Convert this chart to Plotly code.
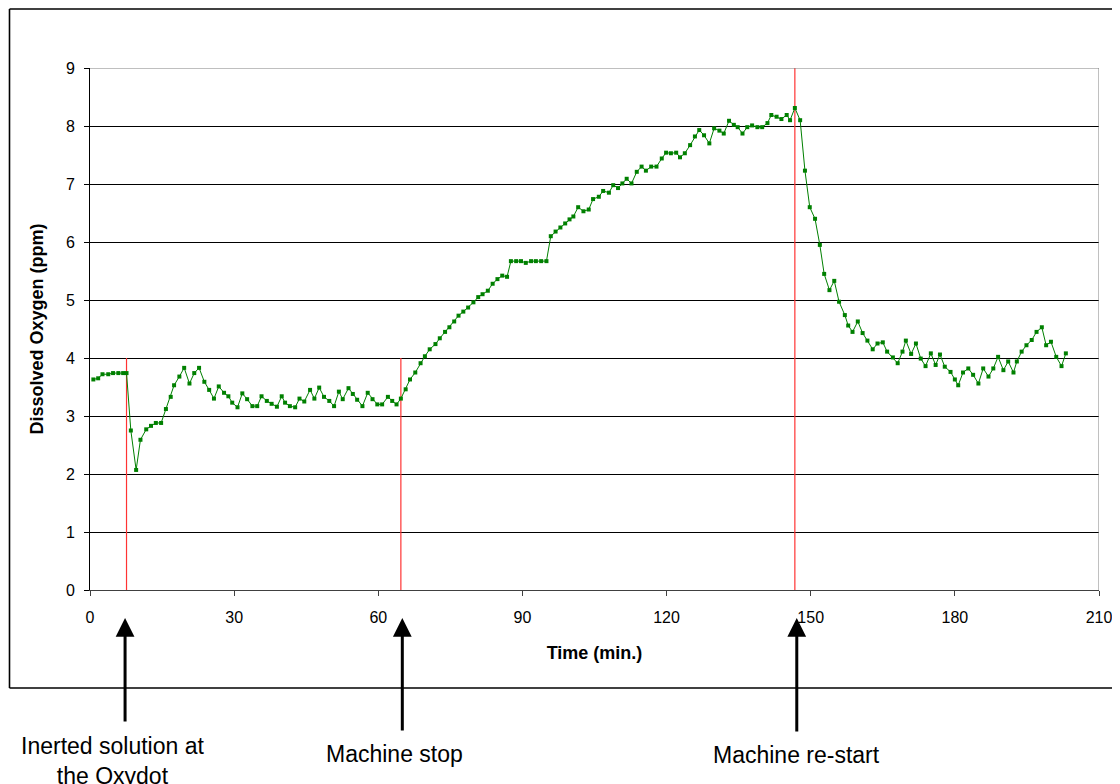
import plotly.graph_objects as go

# dissolved oxygen log
time_min = [
    0.7, 1.7, 2.6, 3.8, 4.8, 5.9, 6.9, 7.6, 8.5, 9.6, 10.5, 11.7, 12.7, 13.7, 14.8,
    15.8, 16.8, 17.5, 18.6, 19.6, 20.7, 21.7, 22.7, 23.8, 24.8, 25.8, 26.8, 27.9,
    28.8, 29.6, 30.7, 31.7, 32.7, 33.8, 34.8, 35.7, 36.8, 37.8, 38.9, 39.9, 40.6,
    41.6, 42.7, 43.6, 44.6, 45.8, 46.7, 47.7, 48.7, 49.8, 50.8, 51.8, 52.6, 53.8,
    54.7, 55.6, 56.7, 57.8, 58.8, 59.8, 60.8, 62.0, 62.9, 63.8, 64.7, 65.7, 66.6,
    67.7, 68.8, 69.7, 70.7, 71.9, 72.8, 73.9, 74.8, 75.8, 76.7, 77.7, 78.7, 79.8,
    80.8, 81.7, 82.8, 83.8, 84.8, 85.8, 86.8, 87.6, 88.7, 89.7, 90.7, 91.8, 92.8,
    93.9, 95.0, 95.9, 96.9, 97.9, 98.9, 99.8, 100.6, 101.6, 102.7, 103.8, 104.7,
    105.9, 106.8, 108.0, 108.9, 109.9, 110.8, 111.7, 112.7, 113.8, 114.8, 115.7,
    116.8, 117.9, 119.0, 119.9, 120.9, 122.0, 122.8, 123.8, 124.9, 125.9, 126.8,
    127.8, 128.9, 129.9, 131.0, 131.9, 133.0, 134.0, 134.8, 135.8, 136.8, 137.8,
    138.9, 139.9, 141.0, 141.8, 142.9, 143.9, 145.0, 145.7, 146.7, 147.8, 148.8,
    149.8, 150.9, 151.9, 152.8, 153.9, 154.9, 155.9, 157.1, 157.8, 158.7, 159.8,
    160.8, 161.8, 162.9, 163.9, 165.0, 165.9, 167.1, 168.1, 169.1, 169.8, 170.9,
    171.9, 172.9, 173.9, 175.0, 176.0, 176.9, 177.9, 179.1, 180.0, 180.7, 181.7,
    182.8, 183.8, 184.9, 185.9, 187.0, 188.0, 189.0, 190.1, 191.1, 192.2, 192.9,
    193.9, 194.9, 196.0, 197.0, 198.1, 199.0, 200.0, 201.1, 202.2, 203.1,
]
oxygen_ppm = [
    3.63, 3.65, 3.72, 3.72, 3.74, 3.74, 3.74, 3.74, 2.75, 2.07, 2.59, 2.77, 2.83, 2.88, 2.88,
    3.12, 3.33, 3.53, 3.68, 3.83, 3.56, 3.74, 3.83, 3.59, 3.45, 3.30, 3.51, 3.40,
    3.34, 3.23, 3.15, 3.39, 3.29, 3.17, 3.17, 3.34, 3.26, 3.21, 3.16, 3.34, 3.23,
    3.17, 3.15, 3.30, 3.25, 3.45, 3.30, 3.49, 3.33, 3.26, 3.17, 3.42, 3.29, 3.48,
    3.38, 3.28, 3.17, 3.40, 3.29, 3.20, 3.20, 3.33, 3.26, 3.20, 3.30, 3.46, 3.63,
    3.75, 3.91, 4.03, 4.15, 4.24, 4.34, 4.45, 4.53, 4.63, 4.73, 4.80, 4.87, 4.96,
    5.05, 5.10, 5.16, 5.28, 5.36, 5.42, 5.40, 5.67, 5.67, 5.67, 5.64, 5.67, 5.67,
    5.67, 5.67, 6.10, 6.18, 6.25, 6.32, 6.39, 6.44, 6.60, 6.53, 6.56, 6.74,
    6.78, 6.88, 6.85, 6.98, 6.93, 7.01, 7.09, 7.01, 7.21, 7.30, 7.23,
    7.30, 7.30, 7.44, 7.54, 7.53, 7.54, 7.46, 7.53, 7.67, 7.82, 7.93,
    7.84, 7.70, 7.96, 7.92, 7.87, 8.09, 8.02, 7.98, 7.87, 7.98, 8.01,
    7.98, 7.98, 8.05, 8.19, 8.16, 8.12, 8.19, 8.10, 8.31, 8.10, 7.23,
    6.60, 6.40, 5.95, 5.45, 5.17, 5.33, 4.97, 4.74, 4.56, 4.45, 4.63,
    4.43, 4.30, 4.15, 4.25, 4.27, 4.11, 4.01, 3.91, 4.11, 4.30, 4.07,
    4.25, 3.99, 3.86, 4.08, 3.88, 4.06, 3.85, 3.76, 3.63, 3.53, 3.75,
    3.82, 3.71, 3.56, 3.82, 3.68, 3.82, 4.02, 3.79, 3.94, 3.75, 3.94,
    4.11, 4.22, 4.31, 4.45, 4.53, 4.22, 4.28, 4.02, 3.86, 4.08,
]

# event markers (red vertical lines) and their captions
event_times = [7.6, 64.7, 146.7]
event_tops = [4, 4, 9]
arrow_times = [7.3, 65.0, 147.1]
caption_times = [4.6, 63.3, 147.1]
captions = ["Inerted solution at<br>the Oxydot", "Machine stop", "Machine re-start"]

x_ticks = [0, 30, 60, 90, 120, 150, 180, 210]
y_ticks = [0, 1, 2, 3, 4, 5, 6, 7, 8, 9]

# the page body adds an 8px offset, so the figure is 8px smaller
OFF = 8
W, H = 1120 - OFF, 784 - OFF
L, T = 90 - OFF, 68 - OFF
plot_w, plot_h = 1009, 522
R = W - L - plot_w
B = H - T - plot_h


def py(pix):
    """screen pixel row -> paper y"""
    return (T + plot_h - (pix - OFF)) / plot_h


def px(pix):
    """screen pixel column -> paper x"""
    return (pix - OFF - L) / plot_w


fig = go.Figure()

for t, top in zip(event_times, event_tops):
    fig.add_trace(go.Scatter(
        x=[t, t], y=[0, top], mode="lines",
        line=dict(color="#ff3333", width=1.2),
        hoverinfo="skip", showlegend=False,
    ))

fig.add_trace(go.Scatter(
    x=time_min, y=oxygen_ppm, mode="lines+markers",
    line=dict(color="#008000", width=1),
    marker=dict(symbol="square", size=4, color="#008000"),
    showlegend=False,
))

font = "Arial, Liberation Sans, sans-serif"
grey = dict(color="#808080", width=1)
frame = dict(color="black", width=1.6)

fig.update_layout(
    width=W, height=H,
    margin=dict(l=L, r=R, t=T, b=B, autoexpand=False),
    paper_bgcolor="white", plot_bgcolor="white",
    font=dict(family=font, size=16, color="black"),
    xaxis=dict(
        range=[0, 210], tickvals=x_ticks, showgrid=False, zeroline=False,
        showline=True, linecolor="#404040", linewidth=1,
        ticks="outside", ticklen=5, tickcolor="#404040",
        ticklabelstandoff=8,
        title=dict(text="<b>Time (min.)</b>", font=dict(size=18), standoff=21),
    ),
    yaxis=dict(
        range=[0, 9], tickvals=y_ticks, showgrid=True, gridcolor="black",
        gridwidth=1, zeroline=False,
        showline=True, linecolor="black", linewidth=1,
        ticks="outside", ticklen=5, tickcolor="black",
        ticklabelstandoff=6,
        title=dict(text="<b>Dissolved Oxygen (ppm)</b>", font=dict(size=18), standoff=17),
    ),
    shapes=[
        # grey plot-area border (top and right)
        dict(type="line", xref="x", yref="y", x0=0, x1=210, y0=9, y1=9, line=grey),
        dict(type="line", xref="x", yref="y", x0=210, x1=210, y0=0, y1=9, line=grey),
        # outer chart frame: left, top, bottom (right edge is off the picture)
        dict(type="line", xref="paper", yref="paper",
             x0=px(9.5), x1=px(9.5), y0=py(688), y1=py(9), line=frame),
        dict(type="line", xref="paper", yref="paper",
             x0=px(9.5), x1=px(1120), y0=py(9), y1=py(9), line=frame),
        dict(type="line", xref="paper", yref="paper",
             x0=px(9.5), x1=px(1120), y0=py(688), y1=py(688), line=frame),
    ],
)

arrow_tails = [723, 732, 733]
for t, tail in zip(arrow_times, arrow_tails):
    fig.add_annotation(
        x=t, y=py(618), xref="x", yref="paper", text="",
        showarrow=True, arrowhead=2, arrowsize=1.25, arrowwidth=3,
        arrowcolor="black", ax=0, ay=tail - 618,
    )

caption_rows = [761, 754, 755]
for t, txt, row in zip(caption_times, captions, caption_rows):
    fig.add_annotation(
        x=t, y=py(row), xref="x", yref="paper", text=txt,
        showarrow=False, xanchor="center", yanchor="middle",
        font=dict(size=23, family=font, color="black"),
    )

fig.write_html("out.html")
